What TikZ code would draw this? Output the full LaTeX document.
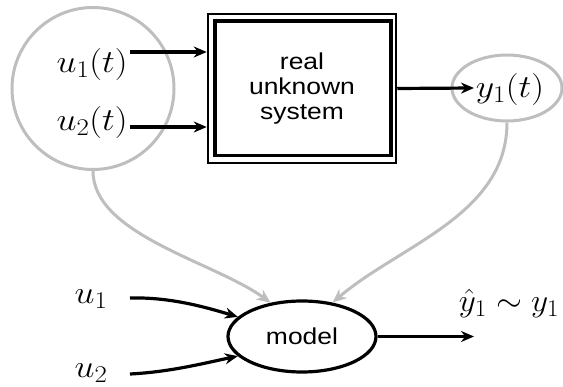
\RequirePackage{fix-cm}
\documentclass[tikz,border=0pt]{standalone}
\usepackage{fontspec}
\newfontfamily\labelsans[FakeStretch=1.15]{Liberation Sans}
\usetikzlibrary{arrows.meta,shapes.geometric}
\definecolor{linkgray}{RGB}{190,190,190}
% large math with slightly larger subscripts
\DeclareMathSizes{32}{32}{24}{18}
% math labels are set slightly wide
\newcommand{\wmath}[1]{\scalebox{1.12}[1]{$#1$}}
\tikzset{
  sigring/.style={draw=linkgray, line width=3pt},
  mathlabel/.style={font=\fontsize{32}{36}\selectfont, inner sep=0pt, anchor=base},
  sanslabel/.style={font=\labelsans\fontsize{23}{25}\selectfont, align=center},
  flow/.style={line width=3.2pt, -{Stealth[length=13pt,width=11pt]}},
  feed/.style={draw=linkgray, line width=3pt, -{Stealth[length=14pt,width=12pt]}},
}
\begin{document}
\begin{tikzpicture}[x=1pt,y=-1pt]
\useasboundingbox (0,0) rectangle (563,387);

% measured signals of the real system
\node[sigring, circle, minimum size=162pt] (inputs) at (93,88.5) {};
\node[mathlabel] (u1t) at (92,73) {\wmath{u_1(t)}};
\node[mathlabel] (u2t) at (92,131) {\wmath{u_2(t)}};

% the real system: double-framed box
\node[draw, line width=2.5pt, minimum width=188pt, minimum height=149pt, sanslabel]
  (sys) at (302,88.5) {real\\unknown\\system};
\draw[line width=3.5pt] ([shift={(8,8.5)}]sys.north west)
  rectangle ([shift={(-6.5,-8.5)}]sys.south east);

\node[sigring, ellipse, minimum width=110pt, minimum height=66pt] (output) at (507,88) {};
\node[mathlabel] (y1t) at (510,98) {\wmath{y_1(t)}};

\coordinate (u1src) at (130,52);
\coordinate (u2src) at (130,127);
\coordinate (y1tip) at (474,88);
\draw[flow] (u1src) -- (u1src -| sys.west);
\draw[flow] (u2src) -- (u2src -| sys.west);
\draw[flow] (sys.east) -- (y1tip);

% the model
\node[draw, ellipse, line width=3.2pt, minimum width=148pt, minimum height=71pt, sanslabel]
  (model) at (302,336.5) {model};
\node[mathlabel] (u1b) at (91,304) {\wmath{u_1}};
\node[mathlabel] (u2b) at (91,378) {\wmath{u_2}};
\node[mathlabel] (yhat) at (509,312) {\scalebox{1.04}[1]{$\hat y_1\sim y_1$}};

\coordinate (u1in) at (130,298);
\coordinate (u2in) at (130,374);
\coordinate (yhattip) at (474,336.5);
\draw[flow] (u1in) .. controls (170,297) and (205,307) .. (model.163);
\draw[flow] (u2in) .. controls (170,372) and (205,363) .. (model.197);
\draw[flow] (model.east) -- (yhattip);

% data used to build the model
\draw[feed] (inputs.south) .. controls (93,235) and (215,262) .. (model.133);
\draw[feed] (output.south) .. controls (507,215) and (400,245) .. (model.48);
\end{tikzpicture}
\end{document}
